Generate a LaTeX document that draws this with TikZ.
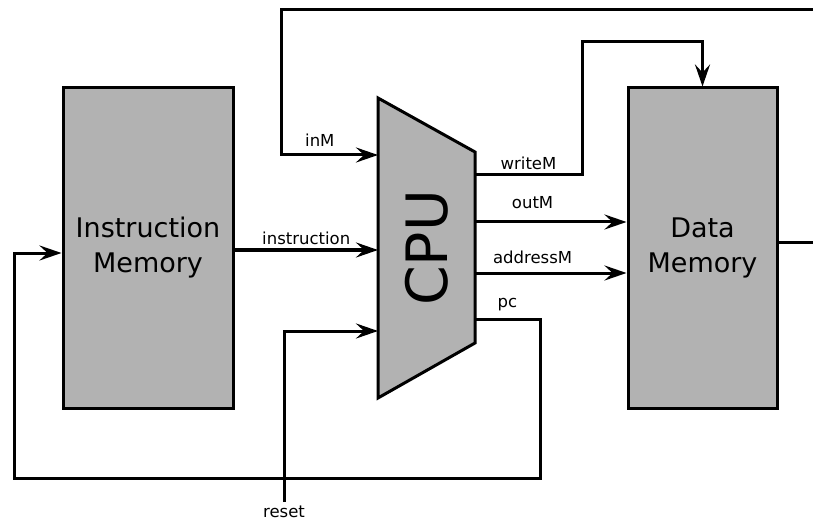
\documentclass[tikz,border=0pt]{standalone}
\usepackage{fontspec}
\setmainfont{DejaVu Sans}
\usetikzlibrary{arrows.meta}

\begin{document}
\begin{tikzpicture}[%
        x = 1pt, y = -1pt,
        wire/.style = {line width=3pt},
        bus/.style = {wire, -{Stealth[length=22pt, width=15pt, inset=8pt]}},
        membox/.style = {draw, line width=3pt, fill=gray!60, minimum width=170pt,
            minimum height=320pt, align=center, font=\fontsize{27}{35}\selectfont},
        sig/.style = {font=\fontsize{16.5}{19}\selectfont}
    ]
      \useasboundingbox (0,0) rectangle (813,521);
      \node[membox] (imem) at (148,248) {Instruction\\Memory};
      \node[membox, minimum width=149pt] (dmem) at (702.5,248) {Data\\Memory};
      \draw[line width=3pt, fill=gray!60] (378,98) -- (475,152) -- (475,343) -- (378,398) -- cycle;
      \node[rotate=90, font=\fontsize{57}{60}\selectfont] (cpu) at (427,248) {CPU};
      \coordinate (cpuinM) at (378,155);
      \coordinate (cpuinstr) at (378,250);
      \coordinate (cpureset) at (378,331);
      \coordinate (cpuwriteM) at (475,175);
      \coordinate (cpuoutM) at (475,222);
      \coordinate (cpuaddrM) at (475,273);
      \coordinate (cpupc) at (475,319);
      \coordinate (topend) at (813,10);
      \coordinate (dout) at (813,243);
      \coordinate (resetend) at (284,502);
      \draw[bus] (topend) -- (281,10) -- (281,155) -- node[sig, above=4pt, pos=0.4] (linM) {inM} (cpuinM);
      \draw[bus] (imem.east |- cpuinstr) -- node[sig, above] (linstr) {instruction} (cpuinstr);
      \draw[bus] (resetend) -- (284,331) -- (cpureset);
      \node[sig, below] (lreset) at (resetend) {reset};
      \draw[bus] (cpuwriteM) -- node[sig, above] (lwriteM) {writeM} (582,175) -- (582,42) -- (dmem.north |- 0,42) -- (dmem.north);
      \draw[bus] (cpuoutM) -- node[sig, above=8pt, pos=0.38] (loutM) {outM} (dmem.west |- cpuoutM);
      \draw[bus] (cpuaddrM) -- node[sig, above=4pt, pos=0.38] (laddrM) {addressM} (dmem.west |- cpuaddrM);
      \draw[bus] (cpupc) -- node[sig, above=3pt] (lpc) {pc} (540,319) -- (540,478) -- (14,478) -- (14,253) -- (imem.west |- 0,253);
      \draw[wire] (dmem.east |- dout) -- (dout);
    \end{tikzpicture}
\end{document}
